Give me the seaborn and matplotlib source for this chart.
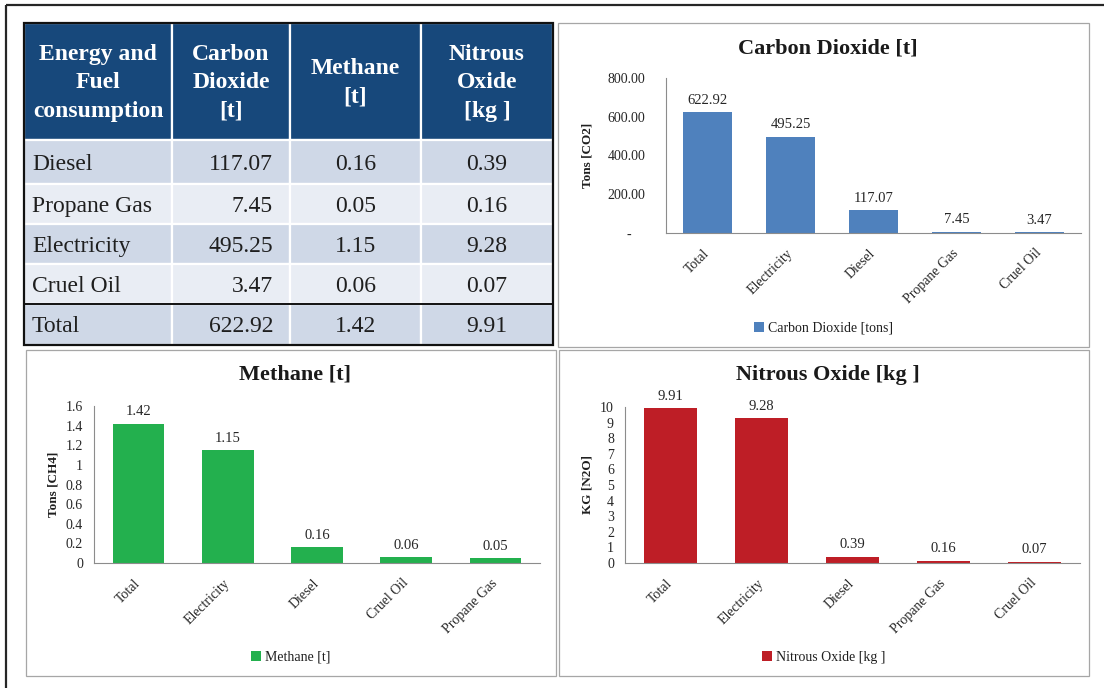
import numpy as np
import pandas as pd
import matplotlib
matplotlib.use("Agg")
import matplotlib.pyplot as plt
from matplotlib.patches import Rectangle
from matplotlib.ticker import FuncFormatter, FixedLocator
import seaborn as sns

# ---- emissions by energy / fuel source ----
fuels = ["Diesel", "Propane Gas", "Electricity", "Cruel Oil"]
co2_t = [117.07, 7.45, 495.25, 3.47]
ch4_t = [0.16, 0.05, 1.15, 0.06]
n2o_kg = [0.39, 0.16, 9.28, 0.07]
total_label = "Total"
co2_total = 622.92
ch4_total = 1.42
n2o_total = 9.91

table_headers = ["Energy and\nFuel\nconsumption", "Carbon\nDioxide\n[t]",
                 "Methane\n[t]", "Nitrous\nOxide\n[kg ]"]

co2_ticks = [0, 200, 400, 600, 800]
ch4_ticks = [0, 0.2, 0.4, 0.6, 0.8, 1.0, 1.2, 1.4, 1.6]
n2o_ticks = list(range(0, 11))

sns.set_theme(style="white")
plt.rcParams["font.family"] = ["Liberation Serif", "DejaVu Serif"]
plt.rcParams["text.color"] = "#1f1f1f"
plt.rcParams["xtick.color"] = "#262626"
plt.rcParams["ytick.color"] = "#262626"

W, H = 1104, 688
fig = plt.figure(figsize=(W / 100, H / 100), dpi=100)
fig.patch.set_facecolor("white")


def box(x0, y0, x1, y1):
    return [x0 / W, 1 - y1 / H, (x1 - x0) / W, (y1 - y0) / H]


# background layer in pixel coordinates for frames and the table
bg = fig.add_axes([0, 0, 1, 1])
bg.set_xlim(0, W)
bg.set_ylim(H, 0)
bg.axis("off")

# page frame
bg.plot([6, 6], [5, H], color="#262626", lw=1.6, solid_capstyle="butt")
bg.plot([6, W], [5, 5], color="#262626", lw=1.6, solid_capstyle="butt")

# chart panels
panels = {
    "co2": (558, 23, 1089, 347),
    "ch4": (26, 350, 556, 676),
    "n2o": (559, 350, 1089, 676),
}
for x0, y0, x1, y1 in panels.values():
    bg.add_patch(Rectangle((x0, y0), x1 - x0, y1 - y0, fill=False,
                           ec="#A6A6A6", lw=0.9))

# ---- summary table ----
navy = "#17487B"
row_fills = ["#CFD8E7", "#E9EDF4", "#CFD8E7", "#E9EDF4", "#CFD8E7"]
col_edges = [24, 172, 290, 421, 553]
header_top, header_bottom = 23, 140
row_edges = [140, 184, 224, 264, 304, 345]

for j in range(4):
    x0, x1 = col_edges[j], col_edges[j + 1]
    bg.add_patch(Rectangle((x0, header_top), x1 - x0, header_bottom - header_top,
                           fc=navy, ec="white", lw=1.6))
    bg.text((x0 + x1) / 2, 83, table_headers[j], color="white", fontsize=17,
            fontweight="bold", ha="center", va="center", multialignment="center",
            linespacing=1.45)

row_names = fuels + [total_label]
col_values = [co2_t + [co2_total], ch4_t + [ch4_total], n2o_kg + [n2o_total]]
for i, name in enumerate(row_names):
    y0, y1 = row_edges[i], row_edges[i + 1]
    yc = (y0 + y1) / 2
    for j in range(4):
        x0, x1 = col_edges[j], col_edges[j + 1]
        bg.add_patch(Rectangle((x0, y0), x1 - x0, y1 - y0, fc=row_fills[i],
                               ec="white", lw=1.6))
    bg.text(32, yc, name, fontsize=17, ha="left", va="center_baseline")
    bg.text(273, yc, f"{col_values[0][i]:.2f}", fontsize=17, ha="right",
            va="center_baseline")
    for j in (1, 2):
        xc = (col_edges[j + 1] + col_edges[j + 2]) / 2
        bg.text(xc, yc, f"{col_values[j][i]:.2f}", fontsize=17, ha="center",
                va="center_baseline")

bg.add_patch(Rectangle((24, 23), 529, 322, fill=False, ec="#111111", lw=1.6))
bg.plot([24, 553], [304, 304], color="#111111", lw=1.4)


# ---- bar charts ----
def bar_chart(rect_px, values, total, color, legend_label, ticks, fmt, ylabel,
              title, panel, ylabel_x, tick_pad):
    ax = fig.add_axes(box(*rect_px))
    ax.patch.set_alpha(0)
    names = fuels + [total_label]
    vals = values + [total]
    order = np.argsort(vals, kind="stable")[::-1]
    df = pd.DataFrame({"source": [names[k] for k in order],
                       "value": [vals[k] for k in order]})
    sns.barplot(data=df, x="source", y="value", color=color, saturation=1,
                width=0.58, linewidth=0, ax=ax, label=legend_label)
    ax.bar_label(ax.containers[0], labels=[f"{v:.2f}" for v in df["value"]],
                 padding=4, fontsize=10.5, color="#262626")
    ax.set_xlim(-0.5, 4.5)
    ax.set_ylim(ticks[0], ticks[-1])
    ax.yaxis.set_major_locator(FixedLocator(ticks))
    ax.yaxis.set_major_formatter(FuncFormatter(fmt))
    ax.set_xlabel("")
    ax.set_ylabel("")
    for side in ("top", "right"):
        ax.spines[side].set_visible(False)
    for side in ("left", "bottom"):
        ax.spines[side].set_color("#8C8C8C")
        ax.spines[side].set_linewidth(0.8)
    ax.tick_params(axis="y", length=0, pad=tick_pad, labelsize=10)
    ax.tick_params(axis="x", length=0, pad=13, labelsize=10)
    for lab in ax.get_xticklabels():
        lab.set_rotation(45)
        lab.set_ha("right")
        lab.set_va("center")
        lab.set_rotation_mode("anchor")

    px0, py0, px1, py1 = panel
    cx = (px0 + px1) / 2
    bg.text(cx + 4, py0 + 25, title, fontsize=16, fontweight="bold",
            ha="center", va="center", color="#1a1a1a")
    bg.text(ylabel_x, (rect_px[1] + rect_px[3]) / 2, ylabel, rotation=90,
            fontsize=9.5, fontweight="bold", ha="center", va="center")
    ax.legend(loc="center", bbox_to_anchor=(cx / W, 1 - (py1 - 19) / H),
              bbox_transform=fig.transFigure, frameon=False, fontsize=10,
              handlelength=0.7, handleheight=0.7, handletextpad=0.3)
    return ax


bar_chart((666, 78, 1081, 233), co2_t, co2_total, "#4F81BD",
          "Carbon Dioxide [tons]", co2_ticks,
          lambda v, _: "-    " if v == 0 else f"{v:,.2f}",
          "Tons [CO2]", "Carbon Dioxide [t]", panels["co2"], 587, 15)

bar_chart((94, 406, 540, 563), ch4_t, ch4_total, "#23B04E",
          "Methane [t]", ch4_ticks, lambda v, _: f"{v:g}",
          "Tons [CH4]", "Methane [t]", panels["ch4"], 53, 8)

bar_chart((625, 407, 1080, 563), n2o_kg, n2o_total, "#BE1E26",
          "Nitrous Oxide [kg ]", n2o_ticks, lambda v, _: f"{v:g}",
          "KG [N2O]", "Nitrous Oxide [kg ]", panels["n2o"], 587, 8)

fig.savefig("out.png", dpi=100, facecolor="white")
